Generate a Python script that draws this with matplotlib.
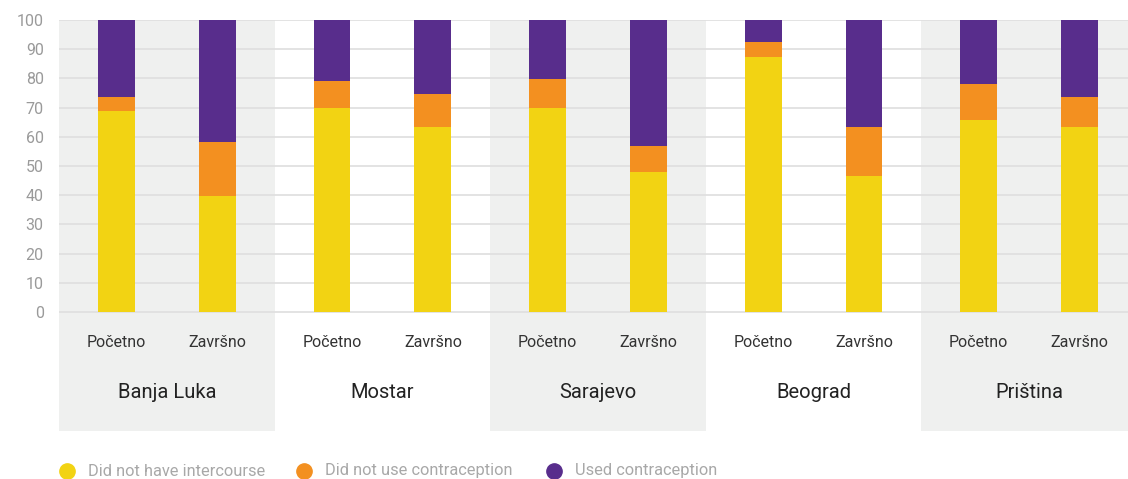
import matplotlib
matplotlib.use("Agg")
import matplotlib.pyplot as plt
from matplotlib.lines import Line2D

# data (percent)
cities = ["Banja Luka", "Mostar", "Sarajevo", "Beograd", "Priština"]
phases = ["Početno", "Završno"]
no_intercourse_start = [68.8, 69.9, 69.9, 87.3, 65.8]
no_contraception_start = [4.8, 9.2, 9.9, 5.2, 12.3]
no_intercourse_end = [39.7, 63.4, 47.9, 46.6, 63.4]
no_contraception_end = [18.5, 11.3, 8.9, 16.8, 10.2]
series_labels = ["Did not have intercourse", "Did not use contraception", "Used contraception"]

YELLOW = "#F2D313"
ORANGE = "#F39020"
PURPLE = "#582D8C"
BAND = "#EFF0EF"
GRID = "#E0E0E0"

plt.rcParams["font.family"] = ["Roboto", "DejaVu Sans"]

W, H = 1128, 479
fig = plt.figure(figsize=(W / 100, H / 100), dpi=100)
ax = fig.add_axes([59 / W, (H - 431) / H, 1 - 59 / W, (431 - 20) / H])

ymin = -(431 - 312) / 2.92
ax.set_ylim(ymin, 100)
ax.set_xlim(0, (W - 59) / 215.6)

# alternating background bands
for g in range(len(cities)):
    if g % 2 == 0:
        ax.axvspan(g, g + 1, color=BAND, zorder=0, lw=0)

for v in range(0, 101, 10):
    ax.axhline(v, color=GRID, lw=1.3, zorder=1)

offsets = [0.266, 0.734]
width = 0.171
for i, (ni, nc) in enumerate([(no_intercourse_start, no_contraception_start),
                              (no_intercourse_end, no_contraception_end)]):
    xs = [g + offsets[i] for g in range(len(cities))]
    used = [100 - a - b for a, b in zip(ni, nc)]
    bottoms2 = [a + b for a, b in zip(ni, nc)]
    ax.bar(xs, ni, width=width, color=YELLOW, zorder=2, lw=0)
    ax.bar(xs, nc, width=width, bottom=ni, color=ORANGE, zorder=2, lw=0)
    ax.bar(xs, used, width=width, bottom=bottoms2, color=PURPLE, zorder=2, lw=0)
    for x in xs:
        ax.text(x, -10.6, phases[i], ha="center", va="center", fontsize=11.5, color="#333333")

for g, city in enumerate(cities):
    ax.text(g + 0.5, -27.6, city, ha="center", va="center", fontsize=14.5, color="#222222")

ax.set_yticks(range(0, 101, 10))
ax.tick_params(axis="y", length=0, labelsize=11.5, labelcolor="#9A9A9A", pad=11)
ax.set_xticks([])
for s in ax.spines.values():
    s.set_visible(False)

# legend, placed by hand
legend_x = [67, 304, 554]
ly = (H - 471) / H
for px, col, lab in zip(legend_x, (YELLOW, ORANGE, PURPLE), series_labels):
    fig.add_artist(Line2D([px / W], [ly], marker="o", ls="", markersize=11,
                          color=col, transform=fig.transFigure))
    fig.text((px + 21) / W, ly, lab, ha="left", va="center", fontsize=11.8, color="#A8A8A8")

fig.savefig("out.png", dpi=100)
